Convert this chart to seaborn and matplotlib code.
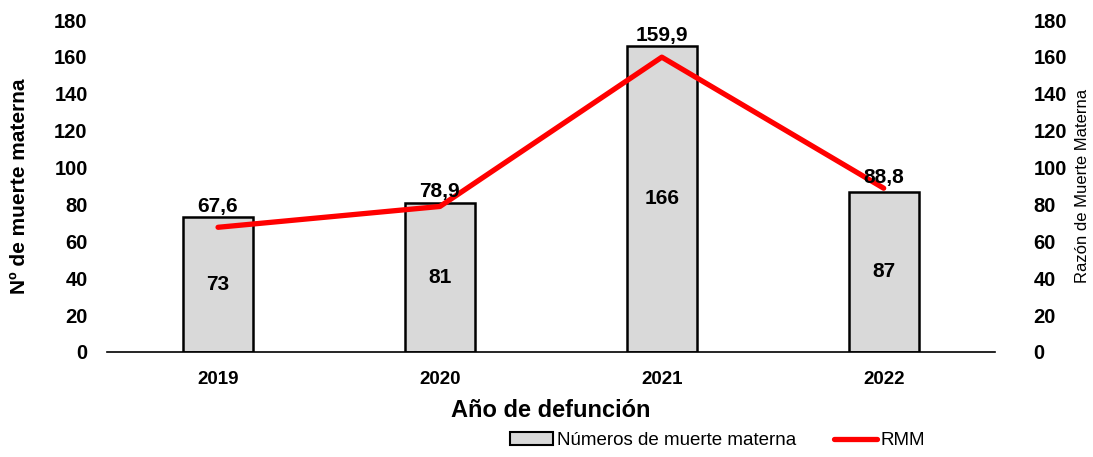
#muertes maternas y razon de mortalidad materna por año

import pandas as pd
import matplotlib.pyplot as plt
import seaborn as sns
from matplotlib.patches import Patch
from matplotlib.lines import Line2D

anios = ['2019', '2020', '2021', '2022']
muertes = [73, 81, 166, 87]
rmm = [67.6, 78.9, 159.9, 88.8]
yticks = [0, 20, 40, 60, 80, 100, 120, 140, 160, 180]


def main():
    sns.set_theme(style='white')
    plt.rcParams['font.family'] = ['Liberation Sans', 'DejaVu Sans']
    plt.rcParams['text.color'] = 'black'
    plt.rcParams['axes.labelcolor'] = 'black'
    plt.rcParams['xtick.color'] = 'black'
    plt.rcParams['ytick.color'] = 'black'

    df = pd.DataFrame({'anio': anios, 'muertes': muertes, 'rmm': rmm})

    fig = plt.figure(figsize=(10.93, 4.57), dpi=100)
    ax = fig.add_axes([0.098, 0.23, 0.812, 0.726])

    sns.barplot(data=df, x='anio', y='muertes', ax=ax, color='#d9d9d9',
                edgecolor='black', linewidth=1.8, width=0.315, saturation=1)
    ax.set_xlim(-0.5, 3.5)
    ax.set_ylim(0, 180)
    ax.set_yticks(yticks)
    ax.set_yticklabels([str(t) for t in yticks], fontsize=14.5, fontweight='bold')
    for lab in ax.get_xticklabels():
        lab.set_fontsize(13.5)
        lab.set_fontweight('bold')
    ax.set_ylabel('Nº de muerte materna', fontsize=15, fontweight='bold', labelpad=18)
    ax.set_xlabel('Año de defunción', fontsize=17, fontweight='bold', labelpad=8)
    ax.tick_params(length=0, pad=14, axis='y')
    ax.tick_params(length=0, pad=14, axis='x')
    for s in ['top', 'left', 'right']:
        ax.spines[s].set_visible(False)
    ax.spines['bottom'].set_color('black')
    ax.spines['bottom'].set_linewidth(1.2)

    # valores dentro de las barras
    for i, v in enumerate(muertes):
        ax.text(i, v / 2, str(v), ha='center', va='center', fontsize=15, fontweight='bold')

    ax2 = ax.twinx()
    sns.lineplot(x=range(len(anios)), y=rmm, ax=ax2, color='#ff0000', linewidth=3.8)
    ax2.set_ylim(0, 180)
    ax2.set_yticks(yticks)
    ax2.set_yticklabels([str(t) for t in yticks], fontsize=14.5, fontweight='bold')
    ax2.set_ylabel('Razón de Muerte Materna', fontsize=12, labelpad=6)
    ax2.tick_params(length=0, pad=28)
    for s in ['top', 'left', 'right', 'bottom']:
        ax2.spines[s].set_visible(False)

    # etiquetas de la RMM sobre cada barra
    for i, v in enumerate(rmm):
        top = max(v, muertes[i])
        ax2.annotate(f'{v:.1f}'.replace('.', ','), (i, top), xytext=(0, 1),
                     textcoords='offset points', ha='center', va='bottom',
                     fontsize=15, fontweight='bold')

    handles = [Patch(facecolor='#d9d9d9', edgecolor='black', linewidth=1.5),
               Line2D([0], [0], color='#ff0000', linewidth=3.8)]
    fig.legend(handles, ['Números de muerte materna', 'RMM'], ncol=2, frameon=False,
               loc='lower right', bbox_to_anchor=(0.862, -0.02), fontsize=13.5,
               handlelength=2.3, handletextpad=0.2, columnspacing=2)

    fig.savefig('out.png', dpi=100)
    plt.close()


if __name__ == '__main__':
    main()
